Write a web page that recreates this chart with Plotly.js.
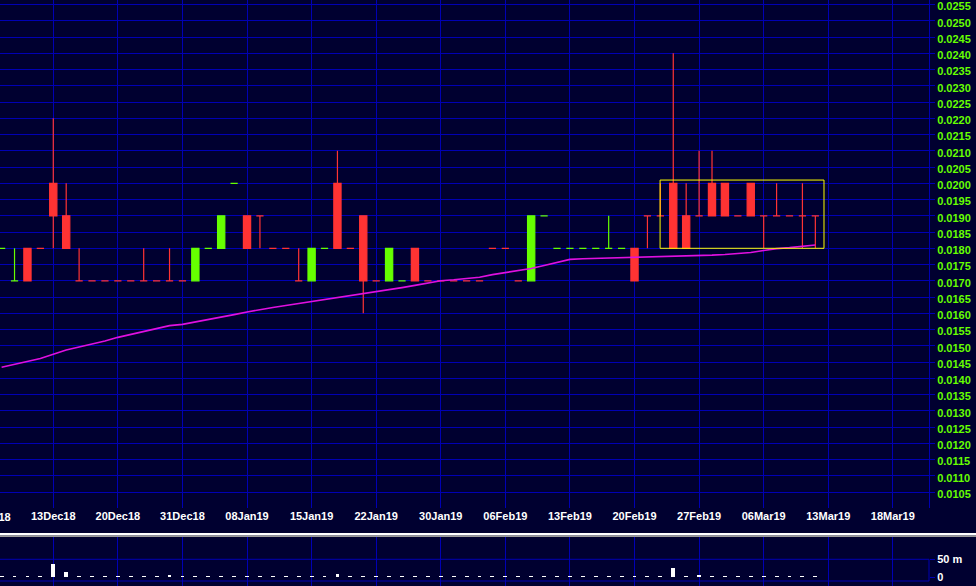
<!DOCTYPE html>
<html><head><meta charset="utf-8">
<script src="https://cdn.plot.ly/plotly-3.0.1.min.js"></script>
<style>html,body{margin:0;padding:0;background:#000030;}#chart{width:976px;height:586px;}</style>
</head><body><div id="chart"></div>
<script>
// x-axis date labels, one every 5 trading days (first one falls just left of the view)
const tickLabels = ['06Dec18','13Dec18','20Dec18','31Dec18','08Jan19','15Jan19','22Jan19','30Jan19',
  '06Feb19','13Feb19','20Feb19','27Feb19','06Mar19','13Mar19','18Mar19'];

const openP = [
  .0180,.0170,.0180,.0180,.0200,.0190,.0170,.0170,
  .0170,.0170,.0170,.0170,.0170,.0170,.0170,.0170,
  .0180,.0180,.0200,.0190,.0190,.0180,.0180,.0170,
  .0170,.0180,.0200,.0180,.0190,.0170,.0170,.0170,
  .0180,.0170,.0170,.0170,.0170,.0170,.0180,.0180,
  .0170,.0170,.0190,.0180,.0180,.0180,.0180,.0180,
  .0180,.0180,.0190,.0190,.0200,.0190,.0190,.0200,
  .0200,.0190,.0200,.0190,.0190,.0190,.0190,.0190];
const highP = [
  .0180,.0180,.0180,.0180,.0220,.0200,.0180,.0170,
  .0170,.0170,.0170,.0180,.0170,.0180,.0170,.0180,
  .0180,.0190,.0200,.0190,.0190,.0180,.0180,.0180,
  .0180,.0180,.0210,.0180,.0190,.0170,.0180,.0170,
  .0180,.0170,.0170,.0170,.0170,.0170,.0180,.0180,
  .0170,.0190,.0190,.0180,.0180,.0180,.0180,.0190,
  .0180,.0180,.0190,.0200,.0240,.0200,.0210,.0210,
  .0200,.0190,.0200,.0190,.0200,.0190,.0200,.0190];
const lowP = [
  .0180,.0170,.0170,.0180,.0180,.0180,.0170,.0170,
  .0170,.0170,.0170,.0170,.0170,.0170,.0170,.0170,
  .0180,.0180,.0200,.0180,.0180,.0180,.0180,.0170,
  .0170,.0180,.0180,.0180,.0160,.0170,.0170,.0170,
  .0170,.0170,.0170,.0170,.0170,.0170,.0180,.0180,
  .0170,.0170,.0190,.0180,.0180,.0180,.0180,.0180,
  .0180,.0170,.0180,.0190,.0180,.0180,.0190,.0190,
  .0190,.0190,.0190,.0180,.0190,.0190,.0180,.0180];
const closeP = [
  .0180,.0170,.0170,.0180,.0190,.0180,.0170,.0170,
  .0170,.0170,.0170,.0170,.0170,.0170,.0170,.0180,
  .0180,.0190,.0200,.0180,.0190,.0180,.0180,.0170,
  .0180,.0180,.0180,.0180,.0170,.0170,.0180,.0170,
  .0170,.0170,.0170,.0170,.0170,.0170,.0180,.0180,
  .0170,.0190,.0190,.0180,.0180,.0180,.0180,.0180,
  .0180,.0170,.0190,.0190,.0180,.0180,.0190,.0190,
  .0190,.0190,.0190,.0190,.0190,.0190,.0190,.0190];
// volume, millions
const volumeM = [
  3,3,3,3,37,15,3,3,
  3,3,3,3,3,7,3,3,
  3,3,3,3,3,3,3,3,
  3,3,9,3,3,3,3,3,
  3,3,3,3,3,3,3,3,
  3,3,3,3,3,3,3,3,
  3,3,3,3,25,3,7,3,
  3,3,3,3,3,3,3,3];
// moving average
const movingAvg = [
  .01434,.01443,.01452,.01461,.01474,.01487,.01496,.01505,
  .01515,.01526,.01535,.01543,.01552,.01562,.01566,.01573,
  .01581,.01588,.01596,.01604,.01612,.01618,.01624,.01630,
  .01635,.01641,.01647,.01653,.01659,.01666,.01673,.01679,
  .01686,.01693,.01700,.01703,.01706,.01711,.01719,.01725,
  .01730,.01738,.01747,.01756,.01766,.01768,.01769,.01770,
  .01770,.01771,.01772,.01773,.01774,.01775,.01776,.01779,
  .01781,.01784,.01787,.01793,.01799,.01802,.01806,.01810];

const GREEN = '#66ff00', RED = '#ff3333', GRID = '#0000b4', BG = '#000030';
const idx = openP.map((_, i) => i);
const tickVals = tickLabels.map((_, j) => -1 + 5 * j);

// direction: up/down by close vs open; unchanged bars keep the previous direction
const up = [];
let prevUp = true;
for (let i = 0; i < idx.length; i++) {
  if (closeP[i] > openP[i]) prevUp = true;
  else if (closeP[i] < openP[i]) prevUp = false;
  up.push(prevUp);
}
function pick(arr, flag) { return arr.filter((_, i) => up[i] === flag); }
function candle(flag, color) {
  return {
    type: 'candlestick', xaxis: 'x', yaxis: 'y',
    x: pick(idx, flag), open: pick(openP, flag), high: pick(highP, flag),
    low: pick(lowP, flag), close: pick(closeP, flag),
    increasing: {line: {color: color, width: 1.2}, fillcolor: color},
    decreasing: {line: {color: color, width: 1.2}, fillcolor: color},
    whiskerwidth: 0, hoverinfo: 'skip', showlegend: false
  };
}

const traces = [
  candle(true, GREEN),
  candle(false, RED),
  {type: 'scatter', mode: 'lines', x: idx, y: movingAvg, xaxis: 'x', yaxis: 'y',
   line: {color: '#e010e0', width: 1.6}, hoverinfo: 'skip'},
  {type: 'bar', x: idx, y: volumeM, xaxis: 'x2', yaxis: 'y2', width: 0.3,
   marker: {color: '#ffffff', line: {width: 0}}, hoverinfo: 'skip'}
];

const mainBottomPx = 508, volTopPx = 537, H = 586, PLOT_W = 929;
const fontB = {family: 'Liberation Sans, Arial, sans-serif', size: 11, color: '#ffffff', weight: 'bold'};
const xRange = [-0.125, 71.8];

const layout = {
  width: 976, height: 586,
  margin: {l: 0, r: 976 - PLOT_W, t: 0, b: 0, pad: 0},
  paper_bgcolor: BG, plot_bgcolor: BG,
  showlegend: false, boxgap: 0.2, boxmode: 'overlay', bargap: 0,
  font: fontB,
  xaxis: {
    anchor: 'y', domain: [0, 1], range: xRange,
    tickmode: 'array', tickvals: tickVals, ticktext: tickLabels,
    showgrid: true, gridcolor: GRID, gridwidth: 1, zeroline: false, showline: false,
    ticks: '', tickfont: fontB, rangeslider: {visible: false}, fixedrange: true
  },
  yaxis: {
    anchor: 'x', domain: [1 - mainBottomPx / H, 1], range: [0.010009, 0.025640],
    side: 'right', tick0: 0, dtick: 0.0005, tickformat: '.4f',
    showgrid: true, gridcolor: GRID, gridwidth: 1, zeroline: false,
    showline: true, linecolor: GRID, linewidth: 1,
    ticks: 'outside', ticklen: 5, tickcolor: GRID, ticklabeloverflow: 'allow',
    ticklabelshift: 2,
    tickfont: {family: fontB.family, size: 11, color: GREEN, weight: 'bold'}
  },
  xaxis2: {
    anchor: 'y2', domain: [0, 1], matches: 'x',
    tickmode: 'array', tickvals: tickVals, showticklabels: false, ticks: '',
    showgrid: true, gridcolor: GRID, gridwidth: 1, zeroline: false, showline: false,
    rangeslider: {visible: false}
  },
  yaxis2: {
    anchor: 'x2', domain: [0, 1 - volTopPx / H], range: [-24.2, 111.9],
    side: 'right', tickmode: 'array', tickvals: [0, 50], ticktext: ['0', '50 m'],
    showgrid: false, zeroline: false, showline: false, ticklabeloverflow: 'allow',
    ticks: 'outside', ticklen: 5, tickcolor: GRID, tickfont: fontB
  },
  shapes: [
    // highlight box
    {type: 'rect', xref: 'x', yref: 'y', x0: 50.98, x1: 63.67, y0: 0.0180, y1: 0.0201,
     line: {color: '#ffff00', width: 1}, fillcolor: 'rgba(0,0,0,0)'},
    // panel separator
    {type: 'rect', xref: 'paper', yref: 'paper', x0: 0, x1: 976 / PLOT_W, y0: 1 - 535.5 / H, y1: 1 - 533 / H,
     line: {width: 0}, fillcolor: '#ffffff'},
    {type: 'rect', xref: 'paper', yref: 'paper', x0: 0, x1: 976 / PLOT_W, y0: 1 - 537 / H, y1: 1 - 535.5 / H,
     line: {width: 0}, fillcolor: '#9a9a9a'},
    // volume panel grid lines
    {type: 'line', xref: 'paper', yref: 'y2', x0: 0, x1: 1, y0: 50, y1: 50, layer: 'below',
     line: {color: GRID, width: 1}},
    {type: 'line', xref: 'paper', yref: 'y2', x0: 0, x1: 1, y0: -10.3, y1: -10.3, layer: 'below',
     line: {color: GRID, width: 1}},
    {type: 'line', xref: 'paper', yref: 'y2', x0: 1, x1: 1, y0: -10.3, y1: 50, layer: 'below',
     line: {color: GRID, width: 1}}
  ],
  annotations: [
    // first date label sits left of the visible range; placed in paper units from its index
    {xref: 'paper', yref: 'paper',
     x: (tickVals[0] - xRange[0]) / (xRange[1] - xRange[0]), y: 1 - 517 / H,
     text: tickLabels[0], showarrow: false, xanchor: 'center', yanchor: 'middle', font: fontB}
  ]
};

Plotly.newPlot('chart', traces, layout, {staticPlot: true, displayModeBar: false});
</script></body></html>
